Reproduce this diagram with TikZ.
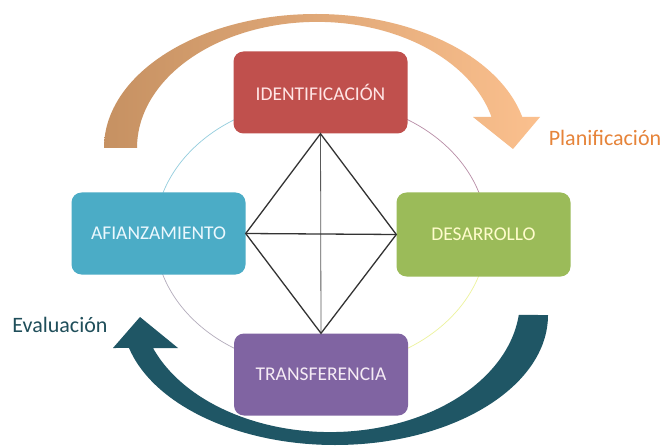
\documentclass[tikz,border=0pt]{standalone}
\usepackage{fontspec}
\setmainfont{Carlito}
\definecolor{idred}{HTML}{C0504D}
\definecolor{afblue}{HTML}{4BACC6}
\definecolor{desgreen}{HTML}{9BBB59}
\definecolor{trpurple}{HTML}{8064A2}
\definecolor{arrdark}{HTML}{1F5665}
\definecolor{arrtan}{HTML}{C69162}
\definecolor{arrpeach}{HTML}{FBC08E}
\definecolor{planorange}{HTML}{E6843A}
\definecolor{evalteal}{HTML}{1F4E5A}
\begin{document}
\begin{tikzpicture}[x=1pt,y=-1pt,
  stagebox/.style={rectangle, rounded corners=10pt, minimum width=174pt, minimum height=82pt, inner sep=0pt, font=\fontsize{19.5}{22}\selectfont},
  label/.style={font=\fontsize{22}{26}\selectfont, inner sep=0pt},
  ring/.style={line width=0.7pt},
  diag/.style={draw=black!80, line width=1.3pt},
  cross/.style={draw=black!65, line width=0.8pt}]
\useasboundingbox (0,0) rectangle (668,446);
\fill[white] (0,0) rectangle (668,446);

% top arrow (Planificacion)
\shade[left color=arrtan, right color=arrpeach]
  (104,148) arc[start angle=180, end angle=346.6, x radius=212, y radius=134]
  -- (540,117) -- (513,149) -- (473,117) -- (491.5,117)
  arc[start angle=345.8, end angle=180, x radius=180, y radius=126] -- cycle;

% bottom arrow (Evaluacion)
\fill[arrdark]
  (548,315) arc[start angle=0, end angle=165.3, x radius=213, y radius=130]
  -- (113,348) -- (140,317) -- (178,348) -- (153,348)
  arc[start angle=158.7, end angle=6.5, x radius=190, y radius=132] -- cycle;

% ring
\draw[ring, color=afblue!60] (155,234) arc[start angle=180, end angle=270, x radius=166, y radius=134];
\draw[ring, color=idred!40!trpurple!70] (321,100) arc[start angle=270, end angle=360, x radius=166, y radius=134];
\draw[ring, color=desgreen!40!yellow!45!white] (487,234) arc[start angle=0, end angle=90, x radius=166, y radius=134];
\draw[ring, color=trpurple!40!gray!60] (321,368) arc[start angle=90, end angle=180, x radius=166, y radius=134];

% boxes
\node[stagebox, fill=idred, text=red!10!white] (id) at (320.5,92.5) {IDENTIFICACIÓN};
\node[stagebox, fill=afblue, text=cyan!8!white] (af) at (158.5,233.5) {AFIANZAMIENTO};
\node[stagebox, fill=desgreen, text=yellow!20!white, minimum height=84pt] (des) at (483.5,234.5) {DESARROLLO};
\node[stagebox, fill=trpurple, text=violet!8!white] (tr) at (321,374.5) {TRANSFERENCIA};

% diamond and cross
\draw[cross] (id.south) -- (tr.north);
\draw[diag] (af.east) -- (des.west);
\draw[diag, line join=miter] (id.south) -- (af.east) -- (tr.north) -- (des.west) -- cycle;

% labels
\node[label, text=planorange] (plan) at (605,138) {Planificación};
\node[label, text=evalteal] (eval) at (60,325) {Evaluación};
\end{tikzpicture}
\end{document}
